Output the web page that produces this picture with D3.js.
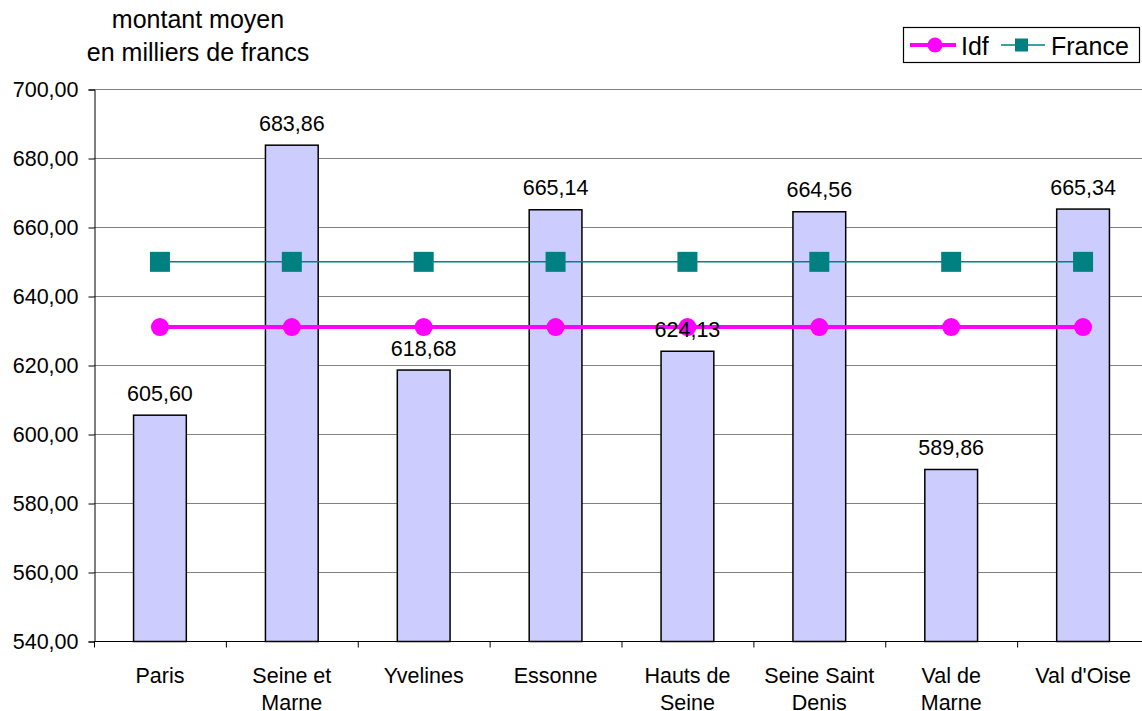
<!DOCTYPE html>
<html>
<head>
<meta charset="utf-8">
<script src="https://cdn.jsdelivr.net/npm/d3@7"></script>
<style>
  body { margin: 0; background: #fff; }
  text { font-family: "Liberation Sans", Arial, sans-serif; fill: #000; }
</style>
</head>
<body>
<div id="chart"></div>
<script>
/* DATA */
const categories = [["Paris"], ["Seine et", "Marne"], ["Yvelines"], ["Essonne"],
  ["Hauts de", "Seine"], ["Seine Saint", "Denis"], ["Val de", "Marne"], ["Val d'Oise"]];
const montants = [605.60, 683.86, 618.68, 665.14, 624.13, 664.56, 589.86, 665.34];
const idf = [631.0, 631.0, 631.0, 631.0, 631.0, 631.0, 631.0, 631.0];
const france = [649.9, 649.9, 649.9, 649.9, 649.9, 649.9, 649.9, 649.9];
const yTicks = [540, 560, 580, 600, 620, 640, 660, 680, 700];

const width = 1142, height = 711,
  margin = { top: 89, bottom: 70, left: 94 },
  plotRight = 1149;

const fmt = v => d3.format(".2f")(v).replace(".", ",");

const svg = d3.select("#chart").append("svg")
  .attr("width", width)
  .attr("height", height);

// band scale for the category slots, bars are 0.4 of a slot
const xBand = d3.scaleBand()
  .domain(d3.range(categories.length))
  .range([margin.left, plotRight]);
const barW = xBand.step() * 0.4;
const cx = i => xBand(i) + xBand.bandwidth() / 2;

const yScale = d3.scaleLinear()
  .domain([540, 700])
  .range([height - margin.bottom, margin.top]);

// gridlines
svg.append("g")
  .selectAll("line")
  .data(yTicks.slice(1))
  .join("line")
  .attr("x1", margin.left)
  .attr("x2", width)
  .attr("y1", d => yScale(d) + 0.5)
  .attr("y2", d => yScale(d) + 0.5)
  .attr("stroke", "#808080")
  .attr("stroke-width", 1.2);

// y axis
const yAxis = d3.axisLeft(yScale)
  .tickValues(yTicks)
  .tickSize(6)
  .tickFormat(fmt);
const yAxisGroup = svg.append("g")
  .attr("transform", `translate(${margin.left + 0.5}, 0.5)`)
  .call(yAxis);
yAxisGroup.select(".domain").attr("stroke", "#000");
yAxisGroup.selectAll(".tick line").attr("stroke", "#000");
yAxisGroup.selectAll("text")
  .attr("x", -16)
  .style("font-size", "21.5px")
  .style("font-family", "Liberation Sans, Arial, sans-serif");

// bars
svg.append("g")
  .selectAll("rect")
  .data(montants)
  .join("rect")
  .attr("x", (d, i) => cx(i) - barW / 2)
  .attr("y", d => yScale(d) + 0.5)
  .attr("width", barW)
  .attr("height", d => yScale(540) - yScale(d))
  .attr("fill", "#CCCCFF")
  .attr("stroke", "#000")
  .attr("stroke-width", 1.5);

// x axis
const xAxisGroup = svg.append("g")
  .attr("transform", `translate(0, ${yScale(540) + 0.5})`);
xAxisGroup.append("line")
  .attr("x1", margin.left)
  .attr("x2", width)
  .attr("stroke", "#000")
  .attr("stroke-width", 1.2);
xAxisGroup.selectAll(".xtick")
  .data(d3.range(categories.length + 1))
  .join("line")
  .attr("class", "xtick")
  .attr("x1", i => margin.left + i * xBand.step() + 0.5)
  .attr("x2", i => margin.left + i * xBand.step() + 0.5)
  .attr("y1", 0)
  .attr("y2", 6)
  .attr("stroke", "#000");

const labels = svg.append("g")
  .selectAll("text")
  .data(categories)
  .join("text")
  .attr("text-anchor", "middle")
  .attr("font-size", 21.5)
  .attr("transform", (d, i) => `translate(${cx(i)}, ${yScale(540) + 42})`);
labels.selectAll("tspan")
  .data(d => d)
  .join("tspan")
  .attr("x", 0)
  .attr("dy", (d, j) => j === 0 ? 0 : 27)
  .text(d => d);

// lines
const lineGen = d3.line()
  .x((d, i) => cx(i))
  .y(d => yScale(d));

svg.append("path")
  .datum(france)
  .attr("fill", "none")
  .attr("stroke", "#008080")
  .attr("stroke-width", 1.5)
  .attr("d", lineGen);

svg.append("g")
  .selectAll("rect")
  .data(france)
  .join("rect")
  .attr("x", (d, i) => cx(i) - 10)
  .attr("y", d => yScale(d) - 10)
  .attr("width", 20)
  .attr("height", 20)
  .attr("fill", "#008080");

svg.append("path")
  .datum(idf)
  .attr("fill", "none")
  .attr("stroke", "#FF00FF")
  .attr("stroke-width", 4)
  .attr("d", lineGen);

svg.append("g")
  .selectAll("circle")
  .data(idf)
  .join("circle")
  .attr("cx", (d, i) => cx(i))
  .attr("cy", d => yScale(d))
  .attr("r", 9)
  .attr("fill", "#FF00FF");

// value labels
svg.append("g")
  .selectAll("text")
  .data(montants)
  .join("text")
  .attr("x", (d, i) => cx(i))
  .attr("y", d => yScale(d) - 14)
  .attr("text-anchor", "middle")
  .attr("font-size", 21.5)
  .text(fmt);

// title
const title = svg.append("text")
  .attr("text-anchor", "middle")
  .attr("font-size", 25)
  .attr("transform", "translate(198, 28)");
title.append("tspan").attr("x", 0).text("montant moyen");
title.append("tspan").attr("x", 0).attr("dy", 33).text("en milliers de francs");

// legend
const legend = svg.append("g").attr("transform", "translate(903, 27)");
legend.append("rect")
  .attr("x", 0.5).attr("y", 0.5)
  .attr("width", 236).attr("height", 35)
  .attr("fill", "#fff")
  .attr("stroke", "#000")
  .attr("stroke-width", 1.2);
legend.append("line")
  .attr("x1", 7).attr("x2", 53).attr("y1", 18).attr("y2", 18)
  .attr("stroke", "#FF00FF").attr("stroke-width", 4);
legend.append("circle")
  .attr("cx", 32).attr("cy", 18).attr("r", 7.5).attr("fill", "#FF00FF");
legend.append("text")
  .attr("x", 58).attr("y", 28).attr("font-size", 25).text("Idf");
legend.append("line")
  .attr("x1", 98).attr("x2", 142).attr("y1", 18).attr("y2", 18)
  .attr("stroke", "#008080").attr("stroke-width", 1.5);
legend.append("rect")
  .attr("x", 112).attr("y", 11.5).attr("width", 13).attr("height", 13).attr("fill", "#008080");
legend.append("text")
  .attr("x", 148).attr("y", 28).attr("font-size", 25).text("France");
</script>
</body>
</html>
